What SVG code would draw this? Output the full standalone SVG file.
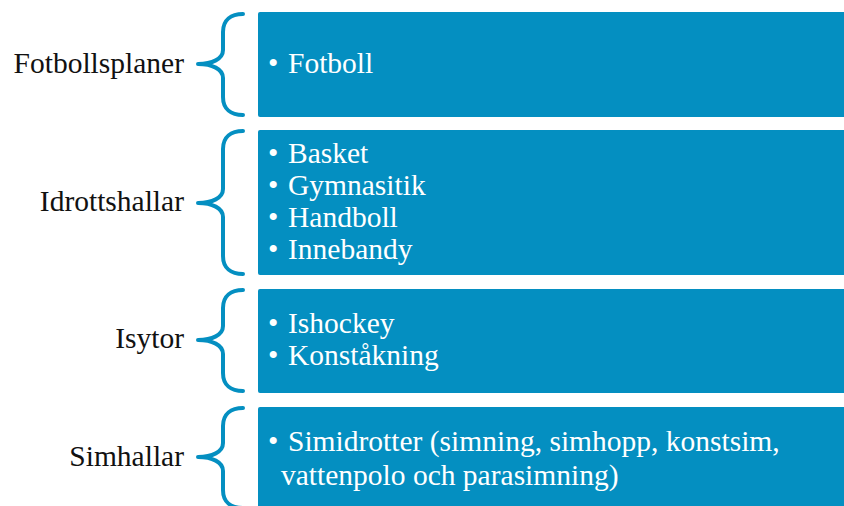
<svg xmlns="http://www.w3.org/2000/svg" width="844" height="506" viewBox="0 0 844 506">
<style>
.box{fill:#048FC1}
.brace{fill:none;stroke:#048FC1;stroke-width:4;stroke-linecap:round;stroke-linejoin:round}
.lbl{font-family:"Liberation Serif",serif;font-size:29.5px;fill:#111;text-anchor:end}
.it{font-family:"Liberation Serif",serif;font-size:29.5px;fill:#fff}
</style>
<rect width="844" height="506" fill="#fff"/>
<g id="connectors">
<path class="brace" d="M243,14 C231,14 223,20 223,32 L223,50 C223,59 212,64 198,64 C212,64 223,69 223,78 L223,97 C223,109 231,115 243,115"/>
<path class="brace" d="M243,131 C231,131 223,137 223,149 L223,189 C223,198 212,203 198,203 C212,203 223,208 223,217 L223,256 C223,268 231,274 243,274"/>
<path class="brace" d="M243,290 C231,290 223,296 223,308 L223,326 C223,335 212,340 198,340 C212,340 223,345 223,354 L223,373 C223,385 231,391 243,391"/>
<path class="brace" d="M243,408 C231,408 223,414 223,426 L223,443 C223,452 212,457 198,457 C212,457 223,462 223,471 L223,490 C223,502 231,508 243,508"/>
</g>
<g id="fotbollsplaner">
<text class="lbl" x="184" y="73">Fotbollsplaner</text>
<rect class="box" x="258" y="12" width="600" height="105" rx="2"/>
<text class="it" y="73"><tspan x="268">•</tspan><tspan x="288">Fotboll</tspan></text>
</g>
<g id="idrottshallar">
<text class="lbl" x="184" y="211">Idrottshallar</text>
<rect class="box" x="258" y="130" width="600" height="145" rx="2"/>
<text class="it" y="162.5"><tspan x="268">•</tspan><tspan x="288">Basket</tspan></text>
<text class="it" y="194.5"><tspan x="268">•</tspan><tspan x="288">Gymnasitik</tspan></text>
<text class="it" y="226.5"><tspan x="268">•</tspan><tspan x="288">Handboll</tspan></text>
<text class="it" y="258.5"><tspan x="268">•</tspan><tspan x="288">Innebandy</tspan></text>
</g>
<g id="isytor">
<text class="lbl" x="184" y="348">Isytor</text>
<rect class="box" x="258" y="289" width="600" height="104" rx="2"/>
<text class="it" y="333"><tspan x="268">•</tspan><tspan x="288">Ishockey</tspan></text>
<text class="it" y="364.5"><tspan x="268">•</tspan><tspan x="288">Konståkning</tspan></text>
</g>
<g id="simhallar">
<text class="lbl" x="184" y="466">Simhallar</text>
<rect class="box" x="258" y="407" width="600" height="110" rx="2"/>
<text class="it" y="451"><tspan x="268">•</tspan><tspan x="288">Simidrotter (simning, simhopp, konstsim,</tspan></text>
<text class="it" x="281" y="485">vattenpolo och parasimning)</text>
</g>
</svg>
